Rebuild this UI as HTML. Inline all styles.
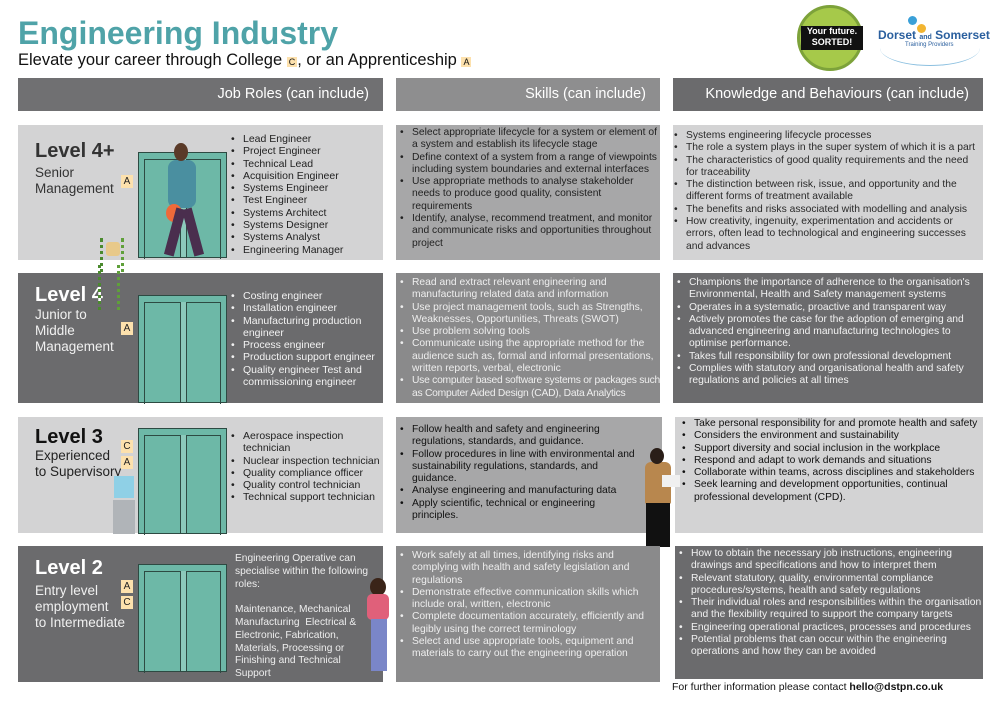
<!DOCTYPE html>
<html><head><meta charset="utf-8"><style>
*{margin:0;padding:0;box-sizing:border-box}
body{width:1000px;height:707px;background:#fff;font-family:"Liberation Sans",sans-serif;position:relative;overflow:hidden;color:#222}
.a{position:absolute}
.box{position:absolute;overflow:hidden}
.hd{position:absolute;top:78px;height:33px;color:#fff;font-size:14.5px;line-height:33px;text-align:right;padding-right:14px}
ul{list-style:none}
ul li{position:relative;padding-left:16px;font-size:10.3px;line-height:12.3px}
ul li:before{content:"•";position:absolute;left:4px}
.lt{background:#d3d3d4;color:#2a2a2a}
.dk{background:#6b6b6d;color:#f2f2f2}
.md{background:#8a8a8b;color:#eee}
.mid{background:#a7a7a8;color:#222}
.lv{position:absolute;left:35px;font-size:20px;font-weight:bold}
.sub{position:absolute;left:35px;font-size:13.5px;line-height:16px}
.bd{position:absolute;width:12px;height:13px;background:#fde1ad;font-size:10px;line-height:13px;text-align:center;color:#222}
.el{position:absolute;width:89px;background:#6db8a7;border:1.5px solid #2d4a42}
.el:before{content:"";position:absolute;left:5px;right:5px;top:6px;bottom:-2px;border:1.5px solid #2d4a42;border-bottom:none}
.el:after{content:"";position:absolute;left:41px;width:5px;top:6px;bottom:0;border-left:1.5px solid #2d4a42;border-right:1.5px solid #2d4a42;background:#8cc9bb}
.roles{width:158px}
.roles li{font-size:10.5px;line-height:12.3px}
</style></head><body>
<div class="a" style="left:18px;top:15px;font-size:32px;font-weight:bold;color:#4fa3a8">Engineering Industry</div>
<div class="a" style="left:18px;top:51px;font-size:16.5px;color:#111">Elevate your career through College <span style="background:#fde1ad;font-size:9px;padding:0 2px">C</span>, or an Apprenticeship <span style="background:#fde1ad;font-size:9px;padding:0 2px">A</span></div>
<!-- logos -->
<div class="a" style="left:797px;top:5px;width:66px;height:66px;border-radius:50%;background:#a6c94a;border:3px solid #7da23a"></div>
<div class="a" style="left:801px;top:26px;width:62px;height:24px;background:#111;color:#fff;font-size:9px;font-weight:bold;line-height:11px;text-align:center">Your future.<br>SORTED!</div>
<div class="a" style="left:878px;top:28px;font-size:12px;color:#2a5f9e;font-weight:bold">Dorset <span style="font-size:7px">and</span> Somerset</div>
<div class="a" style="left:905px;top:42px;font-size:6px;color:#2a5f9e">Training Providers</div>
<div class="a" style="left:908px;top:16px;width:9px;height:9px;border-radius:50%;background:#3aa0d8"></div>
<div class="a" style="left:917px;top:24px;width:9px;height:9px;border-radius:50%;background:#f2b531"></div>
<div class="a" style="left:880px;top:30px;width:100px;height:36px;border-radius:50%;border-bottom:1.5px solid #8cc0e0"></div>

<div class="hd" style="left:18px;width:365px;background:#707072">Job Roles (can include)</div>
<div class="hd" style="left:396px;width:264px;background:#8e8e8f">Skills (can include)</div>
<div class="hd" style="left:673px;width:310px;background:#6b6b6d">Knowledge and Behaviours (can include)</div>

<!-- Row 1 -->
<div class="box lt" style="left:18px;top:125px;width:365px;height:135px"></div>
<div class="lv" style="top:140px;color:#333">Level 4+</div>
<div class="sub" style="top:165px;color:#333">Senior<br>Management</div>
<div class="bd" style="left:121px;top:175px">A</div>
<div class="el" style="left:138px;top:152px;height:106px"></div>
<div class="a" style="left:168px;top:160px;width:28px;height:48px;background:#4a8fa0;border-radius:8px"></div>
<div class="a" style="left:174px;top:143px;width:14px;height:18px;background:#5a3a28;border-radius:50%"></div>
<div class="a" style="left:166px;top:204px;width:16px;height:18px;background:#ee6a3a;border-radius:50%"></div>
<div class="a" style="left:170px;top:208px;width:10px;height:48px;background:#4a2e4e;transform:rotate(15deg)"></div>
<div class="a" style="left:188px;top:208px;width:10px;height:48px;background:#4a2e4e;transform:rotate(-15deg)"></div>
<div class="a" style="left:100px;top:238px;width:24px;height:60px;border-left:3px dotted #4a8a2e;border-right:3px dotted #5fa03a"></div>
<div class="a" style="left:106px;top:242px;width:14px;height:14px;background:#e8c98a;border-radius:3px"></div>
<ul class="roles a" style="left:227px;top:133px;color:#222">
<li>Lead Engineer</li><li>Project Engineer</li><li>Technical Lead</li><li>Acquisition Engineer</li><li>Systems Engineer</li><li>Test Engineer</li><li>Systems Architect</li><li>Systems Designer</li><li>Systems Analyst</li><li>Engineering Manager</li></ul>
<div class="box mid" style="left:396px;top:125px;width:264px;height:135px"><ul style="padding-top:2px">
<li>Select appropriate lifecycle for a system or element of a system and establish its lifecycle stage</li>
<li>Define context of a system from a range of viewpoints including system boundaries and external interfaces</li>
<li>Use appropriate methods to analyse stakeholder needs to produce good quality, consistent requirements</li>
<li>Identify, analyse, recommend treatment, and monitor and communicate risks and opportunities throughout project</li></ul></div>
<div class="box lt" style="left:673px;top:125px;width:310px;height:135px"><ul style="padding-top:5px;margin-left:-3px">
<li>Systems engineering lifecycle processes</li>
<li>The role a system plays in the super system of which it is a part</li>
<li>The characteristics of good quality requirements and the need for traceability</li>
<li>The distinction between risk, issue, and opportunity and the different forms of treatment available</li>
<li>The benefits and risks associated with modelling and analysis</li>
<li>How creativity, ingenuity, experimentation and accidents or errors, often lead to technological and engineering successes and advances</li></ul></div>

<!-- Row 2 -->
<div class="box dk" style="left:18px;top:273px;width:365px;height:130px"></div>
<div class="lv" style="top:284px;color:#fff">Level 4</div>
<div class="sub" style="top:307px;color:#f0f0f0">Junior to<br>Middle<br>Management</div>
<div class="bd" style="left:121px;top:322px">A</div>
<div class="el" style="left:138px;top:295px;height:108px"></div>
<div class="a" style="left:98px;top:265px;width:22px;height:45px;border-left:3px dotted #4a8a2e;border-right:3px dotted #5fa03a"></div>
<ul class="roles a" style="left:227px;top:290px;color:#f2f2f2">
<li>Costing engineer</li><li>Installation engineer</li><li>Manufacturing production engineer</li><li>Process engineer</li><li>Production support engineer</li><li>Quality engineer Test and commissioning engineer</li></ul>
<div class="box md" style="left:396px;top:273px;width:264px;height:130px"><ul style="padding-top:4px">
<li>Read and extract relevant engineering and manufacturing related data and information</li>
<li>Use project management tools, such as Strengths, Weaknesses, Opportunities, Threats (SWOT)</li>
<li>Use problem solving tools</li>
<li>Communicate using the appropriate method for the audience such as, formal and informal presentations, written reports, verbal, electronic</li>
<li style="letter-spacing:-0.25px">Use computer based software systems or packages such as Computer Aided Design (CAD), Data Analytics</li></ul></div>
<div class="box dk" style="left:673px;top:273px;width:310px;height:130px"><ul style="padding-top:4px">
<li>Champions the importance of adherence to the organisation's Environmental, Health and Safety management systems</li>
<li>Operates in a systematic, proactive and transparent way</li>
<li>Actively promotes the case for the adoption of emerging and advanced engineering and manufacturing technologies to optimise performance.</li>
<li>Takes full responsibility for own professional development</li>
<li>Complies with statutory and organisational health and safety regulations and policies at all times</li></ul></div>

<!-- Row 3 -->
<div class="box lt" style="left:18px;top:417px;width:365px;height:116px"></div>
<div class="lv" style="top:426px;color:#111">Level 3</div>
<div class="sub" style="top:448px;color:#222">Experienced<br>to Supervisory</div>
<div class="bd" style="left:121px;top:440px">C</div>
<div class="bd" style="left:121px;top:456px">A</div>
<div class="el" style="left:138px;top:428px;height:106px"></div>
<div class="a" style="left:114px;top:476px;width:20px;height:22px;background:#8fd0e6"></div>
<div class="a" style="left:113px;top:500px;width:22px;height:34px;background:#b0b4b8"></div>
<ul class="roles a" style="left:227px;top:430px;color:#222">
<li>Aerospace inspection technician</li><li>Nuclear inspection technician</li><li>Quality compliance officer</li><li>Quality control technician</li><li>Technical support technician</li></ul>
<div class="box mid" style="left:396px;top:417px;width:266px;height:116px"><ul style="padding-top:7px;padding-right:20px;color:#111">
<li>Follow health and safety and engineering regulations, standards, and guidance.</li>
<li>Follow procedures in line with environmental and sustainability regulations, standards, and guidance.</li>
<li>Analyse engineering and manufacturing data</li>
<li>Apply scientific, technical or engineering principles.</li></ul></div>
<div class="box lt" style="left:675px;top:417px;width:308px;height:116px"><ul style="padding-top:1px;padding-left:3px;color:#111">
<li>Take personal responsibility for and promote health and safety</li>
<li>Considers the environment and sustainability</li>
<li>Support diversity and social inclusion in the workplace</li>
<li>Respond and adapt to work demands and situations</li>
<li>Collaborate within teams, across disciplines and stakeholders</li>
<li>Seek learning and development opportunities, continual professional development (CPD).</li></ul></div>
<!-- man -->
<div class="a" style="left:645px;top:462px;width:26px;height:42px;background:#b8874e;border-radius:6px 6px 2px 2px"></div>
<div class="a" style="left:650px;top:448px;width:14px;height:16px;background:#2a1e18;border-radius:50%"></div>
<div class="a" style="left:646px;top:503px;width:24px;height:44px;background:#111"></div>
<div class="a" style="left:662px;top:475px;width:18px;height:12px;background:#f0f0f0"></div>

<!-- Row 4 -->
<div class="box dk" style="left:18px;top:546px;width:365px;height:136px"></div>
<div class="lv" style="top:557px;color:#fff">Level 2</div>
<div class="sub" style="top:583px;color:#f0f0f0">Entry level<br>employment<br>to Intermediate</div>
<div class="bd" style="left:121px;top:580px">A</div>
<div class="bd" style="left:121px;top:596px">C</div>
<div class="el" style="left:138px;top:564px;height:108px"></div>
<div class="a" style="left:235px;top:553px;width:135px;font-size:10.2px;line-height:12.8px;color:#eee">Engineering Operative can specialise within the following roles:<br><br>Maintenance, Mechanical Manufacturing &nbsp;Electrical &amp; Electronic, Fabrication, Materials, Processing or Finishing and Technical Support</div>
<div class="box md" style="left:396px;top:546px;width:264px;height:136px"><ul style="padding-top:4px;padding-left:0">
<li>Work safely at all times, identifying risks and complying with health and safety legislation and regulations</li>
<li>Demonstrate effective communication skills which include oral, written, electronic</li>
<li>Complete documentation accurately, efficiently and legibly using the correct terminology</li>
<li>Select and use appropriate tools, equipment and materials to carry out the engineering operation</li></ul></div>
<div class="box dk" style="left:675px;top:546px;width:308px;height:133px"><ul style="padding-top:2px">
<li>How to obtain the necessary job instructions, engineering drawings and specifications and how to interpret them</li>
<li>Relevant statutory, quality, environmental compliance procedures/systems, health and safety regulations</li>
<li>Their individual roles and responsibilities within the organisation and the flexibility required to support the company targets</li>
<li>Engineering operational practices, processes and procedures</li>
<li>Potential problems that can occur within the engineering operations and how they can be avoided</li></ul></div>
<!-- woman -->
<div class="a" style="left:370px;top:578px;width:16px;height:18px;background:#3a2418;border-radius:50%"></div>
<div class="a" style="left:367px;top:594px;width:22px;height:26px;background:#e0607a;border-radius:5px"></div>
<div class="a" style="left:371px;top:619px;width:16px;height:52px;background:#7a86c8"></div>
<div class="a" style="left:672px;top:681px;font-size:10.5px;color:#111">For further information please contact <b>hello@dstpn.co.uk</b></div>
</body></html>
